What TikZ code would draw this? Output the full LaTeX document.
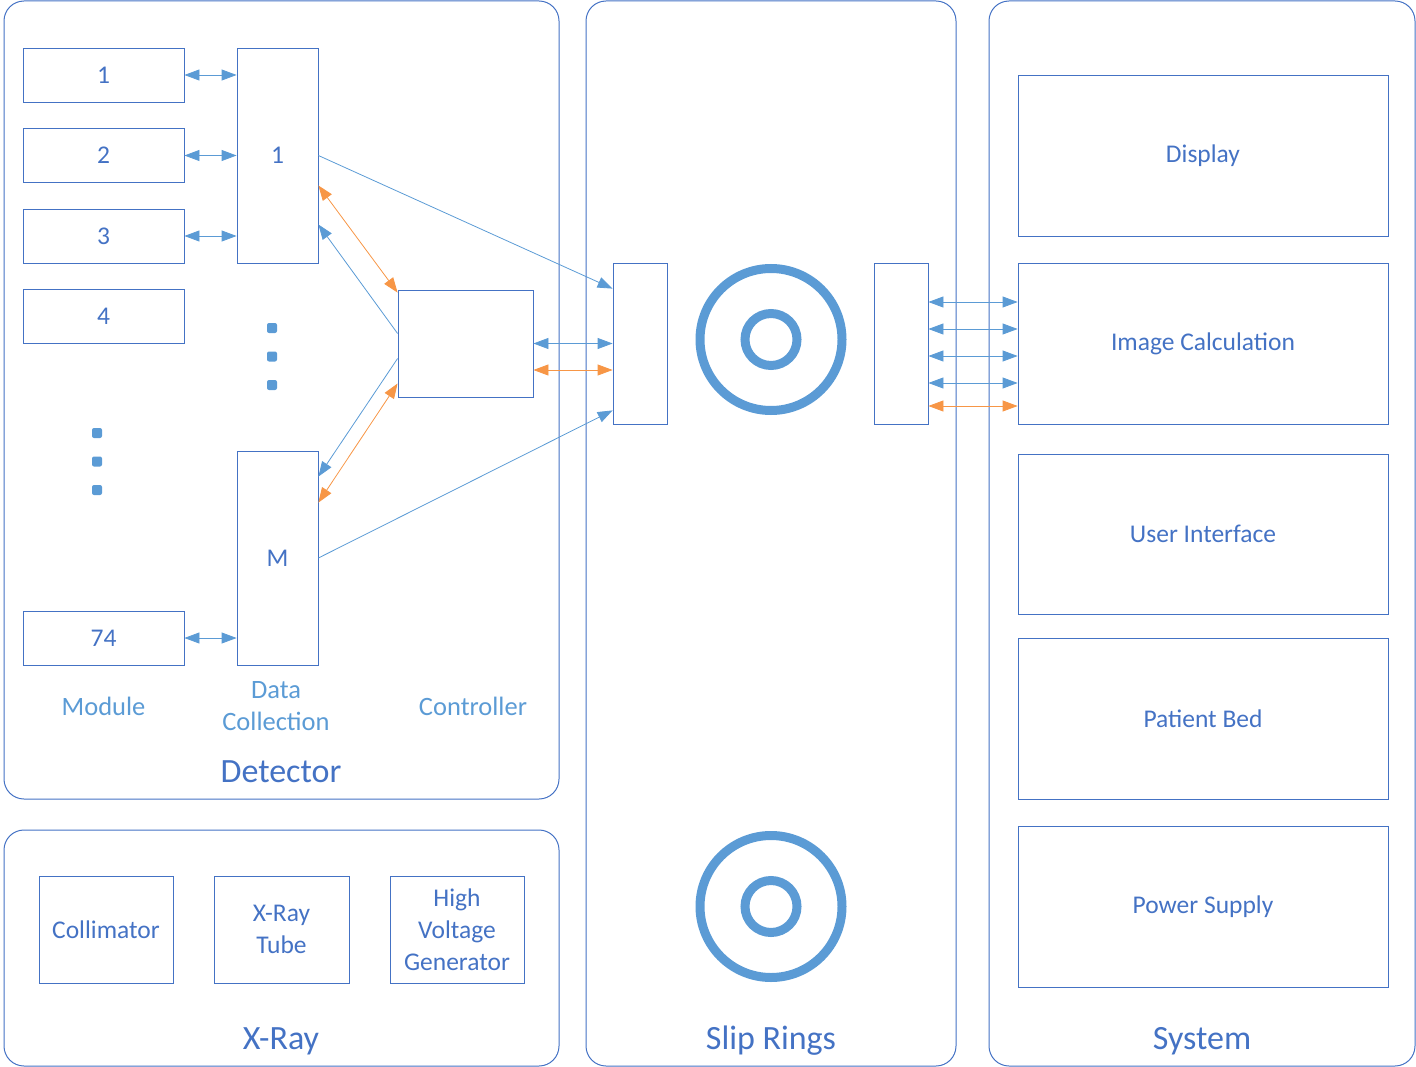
\documentclass[tikz,border=0pt]{standalone}
\usepackage{fontspec}
\setmainfont{Carlito}
\usetikzlibrary{arrows.meta}
\definecolor{boxblue}{HTML}{4472C4}
\definecolor{lineblue}{HTML}{5B9BD5}
\definecolor{orng}{HTML}{F79646}
\tikzset{
  panel/.style={draw=boxblue, line width=1pt, rounded corners=20pt},
  box/.style={draw=boxblue, line width=0.8pt, rectangle, inner sep=0pt, text=boxblue, font=\fontsize{25.5}{32}\selectfont, align=center},
  lbl/.style={text=lineblue, font=\fontsize{26.5}{32}\selectfont, align=center, inner sep=0pt},
  ttl/.style={text=boxblue, font=\fontsize{34}{38}\selectfont, inner sep=0pt},
  bl/.style={draw=lineblue, line width=0.8pt},
  og/.style={draw=orng, line width=0.8pt},
  dbl/.style={{Triangle[length=15pt,width=11pt]}-{Triangle[length=15pt,width=11pt]}},
  sgl/.style={-{Triangle[length=15pt,width=11pt]}},
  dot/.style={fill=lineblue, rounded corners=2pt, minimum size=10pt, inner sep=0pt, rectangle},
  ring/.style={draw=lineblue, line width=9pt}
}
\begin{document}
\begin{tikzpicture}[x=1pt,y=-1pt]
\useasboundingbox (0,0) rectangle (1416,1067);
% panels
\draw[panel] (4,1) rectangle (559,799);
\draw[panel] (4,830) rectangle (559,1066);
\draw[panel] (586,1) rectangle (956,1066);
\draw[panel] (989,1) rectangle (1415,1066);
% modules
\node[box, minimum width=161pt, minimum height=54pt] (m1) at (103.5,75) {1};
\node[box, minimum width=161pt, minimum height=54pt] (m2) at (103.5,155.5) {2};
\node[box, minimum width=161pt, minimum height=54pt] (m3) at (103.5,236) {3};
\node[box, minimum width=161pt, minimum height=54pt] (m4) at (103.5,316.5) {4};
\node[box, minimum width=161pt, minimum height=54pt] (m74) at (103.5,638) {74};
% data collection
\node[box, minimum width=81pt, minimum height=215pt] (dc1) at (277.5,155.5) {1};
\node[box, minimum width=81pt, minimum height=214pt] (dcm) at (277.5,558) {M};
% controller
\node[box, minimum width=135pt, minimum height=107pt] (ctrl) at (465.5,343.5) {};
% slip ring boxes
\node[box, minimum width=54pt, minimum height=161pt] (sl) at (640,343.5) {};
\node[box, minimum width=54pt, minimum height=161pt] (sr) at (901,343.5) {};
% system boxes
\node[box, minimum width=370pt, minimum height=161pt] (disp) at (1203,155.5) {Display};
\node[box, minimum width=370pt, minimum height=161pt] (ic) at (1203,343.5) {Image Calculation};
\node[box, minimum width=370pt, minimum height=160pt] (ui) at (1203,534) {User Interface};
\node[box, minimum width=370pt, minimum height=161pt] (pb) at (1203,718.5) {Patient Bed};
\node[box, minimum width=370pt, minimum height=161pt] (ps) at (1203,906.5) {Power Supply};
% x-ray boxes
\node[box, minimum width=134pt, minimum height=107pt] (col) at (106,929.5) {Collimator};
\node[box, minimum width=135pt, minimum height=107pt] (xt) at (281.5,929.5) {X-Ray\\Tube};
\node[box, minimum width=134pt, minimum height=107pt] (hv) at (457,929.5) {High\\Voltage\\Generator};
% dots
\node[dot] (d1) at (272,328) {};
\node[dot] (d2) at (272,356.5) {};
\node[dot] (d3) at (272,385) {};
\node[dot] (d4) at (97,433) {};
\node[dot] (d5) at (97,461.5) {};
\node[dot] (d6) at (97,490) {};
% rings
\node[circle, ring, minimum size=142pt, inner sep=0pt] (r1) at (771,339.5) {};
\node[circle, ring, minimum size=52pt, inner sep=0pt] (r1i) at (771,339.5) {};
\node[circle, ring, minimum size=142pt, inner sep=0pt] (r2) at (771,906.5) {};
\node[circle, ring, minimum size=52pt, inner sep=0pt] (r2i) at (771,906.5) {};
% labels
\node[lbl] (lmod) at (103.5,706) {Module};
\node[lbl] (ldc) at (276,706) {Data\\Collection};
\node[lbl] (lctrl) at (473,706) {Controller};
\node[ttl] (tdet) at (281,772) {Detector};
\node[ttl] (txr) at (281,1041) {X-Ray};
\node[ttl] (tsr) at (771,1041) {Slip Rings};
\node[ttl] (tsys) at (1202,1041) {System};
% module <-> data collection
\foreach \m in {m1,m2,m3}{
  \draw[bl, dbl] (\m.east) -- (\m.east -| dc1.west);
}
\draw[bl, dbl] (m74.east) -- (m74.east -| dcm.west);
% data collection -> slip
\draw[bl, sgl] (dc1.east) -- ([yshift=-26pt]sl.north west);
\draw[bl, sgl] (dcm.east) -- ([yshift=14pt]sl.south west);
% controller <-> data collection
\draw[og, dbl] ([yshift=-30pt]dc1.east) -- ([yshift=-3pt]ctrl.north west);
\draw[bl, sgl] ([yshift=10pt]ctrl.west) -- ([yshift=-69pt]dc1.east);
\draw[bl, sgl] ([yshift=-15pt]ctrl.west) -- ([yshift=-26pt]dcm.north east);
\draw[og, dbl] ([yshift=-40pt]ctrl.west) -- ([yshift=-52pt]dcm.north east);
% controller <-> slip
\draw[bl, dbl] (ctrl.east) -- (sl.west);
\draw[og, dbl] ([yshift=-26.5pt]ctrl.east) -- ([yshift=-26.5pt]ctrl.east -| sl.west);
% slip <-> image calculation
\foreach \s in {41.5,14.5,-12.5,-39.5}{
  \draw[bl, dbl] ([yshift=\s pt]sr.east) -- ([yshift=\s pt]sr.east -| ic.west);
}
\draw[og, dbl] ([yshift=-62.5pt]sr.east) -- ([yshift=-62.5pt]sr.east -| ic.west);
\end{tikzpicture}
\end{document}
